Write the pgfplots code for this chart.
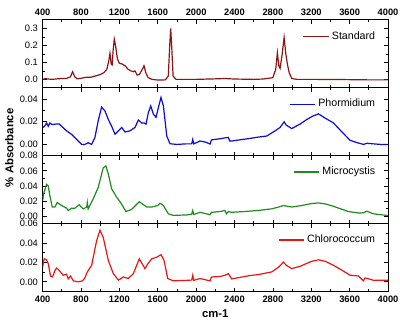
\documentclass[border=0pt]{standalone}
\usepackage{fontspec}
\setmainfont{Liberation Sans}
\usepackage{pgfplots}
\pgfplotsset{compat=1.18}
\definecolor{cStd}{RGB}{140,20,20}
\definecolor{cPho}{RGB}{10,10,225}
\definecolor{cMic}{RGB}{30,140,30}
\definecolor{cChl}{RGB}{235,20,20}
\pgfplotsset{
  panel/.style={
    scale only axis, width=259.5pt, height=51pt,
    xmin=400, xmax=4000,
    xtick={400,800,...,4000}, minor x tick num=1,
    minor y tick num=1,
    scaled y ticks=false,
    axis line style={line width=0.7pt},
    every tick/.style={black, line width=0.5pt},
    major tick length=3pt, minor tick length=1.8pt,
    ytick pos=both, yticklabel pos=left,
    /pgf/number format/assume math mode=true,
    tick label style={font=\fontsize{7}{8}\selectfont},
    xticklabel style={font=\fontsize{7}{8}\selectfont\bfseries},
    xticklabels={},
    legend style={draw=none, fill=none, at={(0.975,0.76)}, anchor=east,
      font=\fontsize{8}{9}\selectfont, inner sep=1pt},
    legend cell align=left,
    legend image code/.code={\draw[#1, line width=0.9pt] (0pt,0pt) -- (19pt,0pt);},
    every axis plot/.append style={line width=0.9pt},
  },
  twod/.style={yticklabel style={/pgf/number format/fixed, /pgf/number format/fixed zerofill, /pgf/number format/precision=2}},
}
\begin{document}
\begin{tikzpicture}
\path[use as bounding box] (-32pt,15pt) rectangle (268.5pt,-227.25pt);
% Panel 1
\begin{axis}[panel, name=p1, at={(0,0)}, anchor=north west,
  ymin=-0.05, ymax=0.35, ytick={0,0.1,0.2,0.3},
  yticklabel style={/pgf/number format/fixed, /pgf/number format/fixed zerofill, /pgf/number format/precision=1},
  xtick pos=both, xticklabel pos=right, xticklabels={400,800,1200,1600,2000,2400,2800,3200,3600,4000}]
\addplot[cStd] coordinates {
(400,0.0) (430,0.004) (460,0.002) (500,0.0) (550,0.003) (600,0.005) (650,0.006) (690,0.015) (713,0.045) (735,0.015) (760,0.003) (800,0.006) (850,0.012) (900,0.012) (950,0.02) (1000,0.028) (1040,0.04) (1070,0.06) (1090,0.11) (1102,0.153) (1115,0.09) (1125,0.085) (1135,0.17) (1147,0.237) (1160,0.2) (1180,0.12) (1200,0.095) (1230,0.09) (1260,0.08) (1290,0.06) (1320,0.05) (1345,0.045) (1363,0.05) (1385,0.025) (1410,0.03) (1440,0.06) (1457,0.08) (1475,0.04) (1500,0.01) (1540,0.0) (1600,-0.004) (1680,-0.003) (1710,0.02) (1725,0.2) (1735,0.3) (1745,0.2) (1760,0.02) (1790,0.0) (1900,0.0) (2000,0.0) (2200,0.003) (2300,0.005) (2400,0.002) (2600,0.0) (2700,0.002) (2800,0.01) (2830,0.06) (2847,0.157) (2862,0.08) (2875,0.065) (2895,0.14) (2917,0.247) (2935,0.15) (2951,0.09) (2970,0.04) (2997,0.005) (3050,0.0) (3200,0.0) (3500,-0.001) (3800,-0.003) (4000,-0.003)
};
\addlegendentry{Standard}
\end{axis}
% Panel 2
\begin{axis}[panel, twod, name=p2, at={(p1.south west)}, anchor=north west,
  ymin=-0.01, ymax=0.05, ytick={0,0.02,0.04}]
\addplot[cPho] coordinates {
(400,0.0148) (420,0.016) (442,0.019) (459,0.016) (476,0.019) (500,0.0175) (540,0.018) (574,0.018) (598,0.016) (650,0.012) (700,0.009) (755,0.0044) (807,0.0) (840,0.0) (876,0.0015) (911,0.0) (945,0.006) (980,0.021) (1015,0.033) (1050,0.0296) (1085,0.022) (1120,0.016) (1155,0.009) (1190,0.012) (1224,0.015) (1259,0.011) (1311,0.012) (1363,0.015) (1398,0.0216) (1433,0.019) (1457,0.019) (1478,0.018) (1502,0.028) (1527,0.034) (1555,0.0267) (1582,0.024) (1607,0.0326) (1634,0.0415) (1659,0.034) (1694,0.0074) (1728,0.0006) (1798,0.0) (1900,0.0005) (1954,0.0005) (1965,0.0044) (1975,0.0005) (2041,0.003) (2100,0.002) (2145,0.0003) (2160,0.004) (2250,0.005) (2319,0.006) (2336,0.0062) (2350,0.003) (2371,0.003) (2450,0.004) (2562,0.0053) (2650,0.0065) (2736,0.0074) (2823,0.012) (2875,0.015) (2917,0.020) (2940,0.017) (2997,0.014) (3040,0.016) (3084,0.018) (3153,0.022) (3215,0.025) (3275,0.027) (3350,0.023) (3431,0.019) (3520,0.011) (3605,0.0036) (3680,0.0015) (3744,0.0) (3780,0.001) (3848,0.0005) (3920,0.0) (3987,0.0) (4000,0.0)
};
\addlegendentry{Phormidium}
\end{axis}
% Panel 3
\begin{axis}[panel, twod, name=p3, at={(p2.south west)}, anchor=north west,
  ymin=-0.01, ymax=0.08, ytick={0,0.02,0.04,0.06,0.08}]
\addplot[cMic] coordinates {
(400,0.0206) (415,0.0315) (442,0.042) (459,0.040) (476,0.027) (500,0.012) (528,0.012) (553,0.018) (575,0.016) (598,0.014) (650,0.0105) (667,0.0074) (702,0.0105) (737,0.0105) (782,0.015) (810,0.011) (824,0.0096) (860,0.012) (866,0.018) (875,0.0096) (928,0.023) (980,0.038) (1032,0.064) (1060,0.0665) (1085,0.0556) (1120,0.036) (1172,0.025) (1213,0.018) (1269,0.006) (1328,0.0088) (1408,0.019) (1485,0.012) (1537,0.012) (1600,0.014) (1624,0.017) (1659,0.014) (1711,0.003) (1763,0.0009) (1900,0.0015) (1954,0.0025) (1965,0.0074) (1975,0.002) (2041,0.005) (2145,0.0018) (2160,0.005) (2250,0.006) (2301,0.0074) (2315,0.003) (2336,0.006) (2371,0.005) (2500,0.006) (2650,0.0075) (2788,0.0096) (2860,0.012) (2910,0.014) (2997,0.012) (3100,0.014) (3200,0.0165) (3275,0.0175) (3350,0.016) (3431,0.013) (3520,0.009) (3588,0.006) (3700,0.004) (3744,0.0044) (3779,0.0065) (3848,0.003) (3987,0.0009) (4000,0.0009)
};
\addlegendentry{Microcystis}
\end{axis}
% Panel 4
\begin{axis}[panel, twod, name=p4, at={(p3.south west)}, anchor=north west,
  ymin=-0.01, ymax=0.06, ytick={0,0.02,0.04,0.06},
  xtick pos=both, xticklabel pos=left, xticklabels={400,800,1200,1600,2000,2400,2800,3200,3600,4000},
  xlabel={cm-1}, xlabel style={font=\fontsize{8.5}{9}\selectfont\bfseries, yshift=2pt}]
\addplot[cChl] coordinates {
(400,0.015) (417,0.0237) (442,0.0227) (459,0.0186) (483,0.0058) (504,0.005) (530,0.012) (546,0.0142) (570,0.012) (615,0.0068) (650,0.0078) (667,0.003) (692,0.006) (720,0.001) (772,0.0) (817,0.001) (840,0.004) (866,0.0102) (911,0.017) (963,0.0424) (998,0.0532) (1032,0.0458) (1085,0.022) (1137,0.0085) (1190,0.0017) (1241,0.005) (1293,0.0034) (1346,0.0085) (1408,0.0237) (1467,0.0136) (1500,0.019) (1537,0.0237) (1589,0.0254) (1634,0.028) (1666,0.022) (1704,0.0034) (1763,0.001) (1900,0.0015) (1954,0.0018) (1965,0.0068) (1975,0.0015) (2041,0.0034) (2145,0.001) (2160,0.005) (2250,0.0055) (2301,0.0068) (2336,0.0085) (2371,0.003) (2562,0.0065) (2650,0.0075) (2788,0.0102) (2858,0.015) (2910,0.0203) (2940,0.017) (2997,0.0136) (3084,0.016) (3200,0.021) (3275,0.0227) (3350,0.021) (3431,0.017) (3520,0.012) (3605,0.0068) (3692,0.006) (3744,0.001) (3760,0.004) (3800,0.003) (3850,0.0015) (3987,0.0017) (4000,0.0017)
};
\addlegendentry{Chlorococcum}
\end{axis}
\node[rotate=90, font=\fontsize{8.5}{9}\selectfont\bfseries] at (-25pt,-96pt) {\% Absorbance};
\end{tikzpicture}
\end{document}
